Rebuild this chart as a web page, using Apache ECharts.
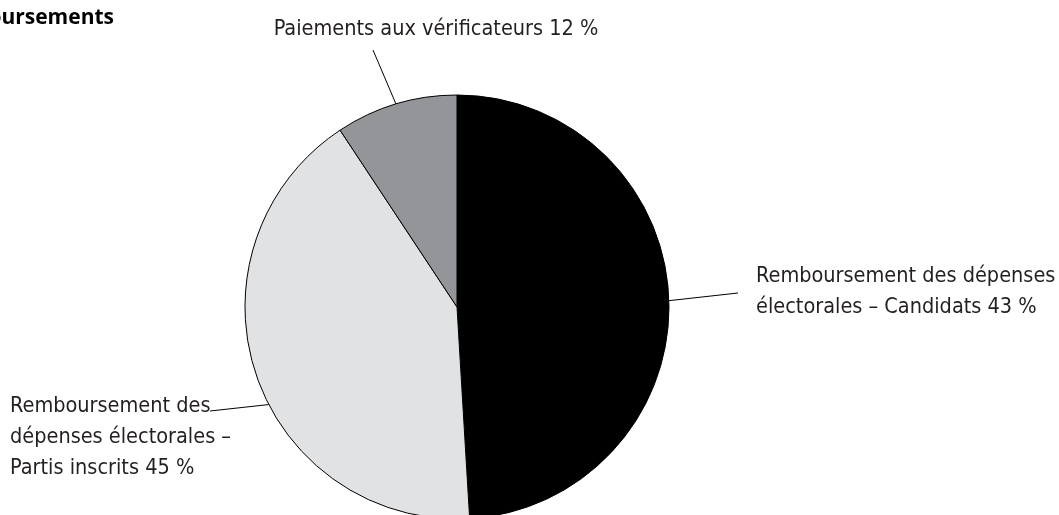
<!DOCTYPE html>
<html>
<head>
<meta charset="utf-8">
<script src="https://cdn.jsdelivr.net/npm/echarts@6/dist/echarts.min.js"></script>
<style>
  html, body { margin: 0; padding: 0; background: #fff; }
  #chart { width: 1059px; height: 515px; }
</style>
</head>
<body>
<div id="chart"></div>
<script>
// categories and the percentages printed in the labels
const categories = [
  'Remboursement des dépenses\nélectorales – Candidats',
  'Remboursement des\ndépenses électorales –\nPartis inscrits',
  'Paiements aux vérificateurs'
];
const labelPct = [43, 45, 12];
// slice sizes as drawn in the picture (share of the circle, %)
const sliceValues = [49.05, 41.65, 9.3];
const sliceColors = ['#000000', '#e1e2e4', '#939598'];

const FONT = '"DejaVu Sans Condensed", "DejaVu Sans", sans-serif';

// label anchor + line end next to the text (label placement only)
const labelSpots = [
  { x: 756, y: 292, align: 'left', line: [738, 293] },
  { x: 10, y: 437, align: 'left', line: [210, 411] },
  { x: 436, y: 29, align: 'center', line: [373, 50] }
];

const chart = echarts.init(document.getElementById('chart'));

chart.setOption({
  backgroundColor: '#fff',
  animation: false,
  graphic: [{
    type: 'text',
    x: 114,
    y: 29,
    style: {
      text: 'Remboursements',
      font: 'bold 21px "Open Sans", sans-serif',
      fill: '#000',
      align: 'right',
      verticalAlign: 'bottom'
    }
  }],
  series: [{
    type: 'pie',
    center: [457, 307],
    radius: 212,
    startAngle: 90,
    clockwise: true,
    silent: true,
    data: categories.map(function (name, i) {
      return {
        name: name,
        value: sliceValues[i],
        itemStyle: { color: sliceColors[i] }
      };
    }),
    itemStyle: { borderColor: '#000', borderWidth: 1 },
    label: {
      show: true,
      formatter: function (p) { return p.name + ' ' + labelPct[p.dataIndex] + ' %'; },
      fontFamily: FONT,
      fontSize: 21.5,
      lineHeight: 31,
      color: '#231f20',
      width: 600,
      overflow: 'none'
    },
    labelLine: {
      show: true,
      lineStyle: { color: '#000', width: 1 }
    },
    labelLayout: function (params) {
      const s = labelSpots[params.dataIndex];
      let start = params.labelLinePoints ? params.labelLinePoints[0] : null;
      if (params.dataIndex === 1) {
        // the line for this slice leaves the rim lower than the mid-angle
        const a = 242.6 * Math.PI / 180;
        start = [457 + 212 * Math.sin(a), 307 - 212 * Math.cos(a)];
      }
      return {
        x: s.x,
        y: s.y,
        align: s.align,
        verticalAlign: 'middle',
        labelLinePoints: [start, s.line, s.line]
      };
    }
  }]
});
</script>
</body>
</html>
